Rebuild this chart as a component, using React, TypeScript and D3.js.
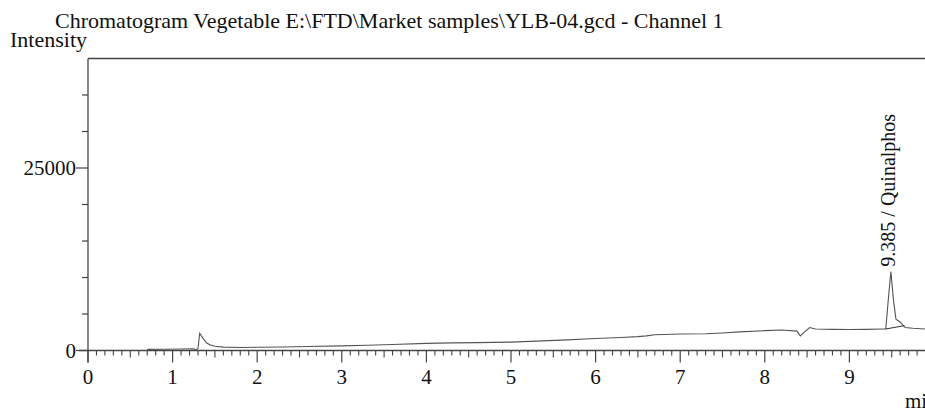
import React from 'react';
import * as d3 from 'd3';

// chromatogram trace: [minutes, intensity]
const traceTimes = [
  0.7, 0.9, 1.1, 1.25, 1.27, 1.3, 1.32, 1.34, 1.37, 1.4, 1.44, 1.5, 1.6, 1.8,
  2.0, 2.3, 2.6, 3.0, 3.3, 3.6, 4.0, 4.3, 4.6, 5.0, 5.3, 5.6, 6.0, 6.3, 6.5,
  6.6, 6.7, 7.0, 7.3, 7.5, 7.7, 8.0, 8.2, 8.38, 8.42, 8.46, 8.53, 8.6, 8.8,
  9.0, 9.2, 9.4, 9.43, 9.46, 9.49, 9.52, 9.55, 9.6, 9.63, 9.66, 9.75, 9.9,
];
const traceValues = [
  150, 180, 200, 220, 100, 250, 2350, 2000, 1500, 1050, 780, 580, 460, 420,
  440, 480, 540, 640, 720, 820, 980, 1040, 1080, 1150, 1280, 1420, 1640, 1780,
  1900, 2000, 2150, 2250, 2300, 2400, 2550, 2720, 2800, 2650, 2000, 2450,
  3150, 2950, 2900, 2880, 2900, 2950, 2950, 7000, 10800, 7000, 4300, 3900,
  3500, 3150, 3050, 2950,
];

// integration baseline under the peak
const peakBaseTimes = [9.43, 9.65];
const peakBaseValues = [2950, 3400];

const peakLabel = '9.385 / Quinalphos';
const peakTime = 9.49;
const peakValue = 10800;

const yMajorTicks = [0, 25000];
const yMinorTicks = [5000, 10000, 15000, 20000, 30000, 35000];
const xMajorTicks = [0, 1, 2, 3, 4, 5, 6, 7, 8, 9];

const title = 'Chromatogram Vegetable E:\\FTD\\Market samples\\YLB-04.gcd - Channel 1';

const W = 925;
const H = 409;
const font = '"Liberation Serif", "Times New Roman", serif';

export default function App() {
  const x = d3.scaleLinear().domain([0, 10]).range([88, 934]);
  const y = d3.scaleLinear().domain([0, 40000]).range([350.5, 58.5]);

  const pts: [number, number][] = traceTimes.map((t, i) => [t, traceValues[i]]);
  const line = d3
    .line<[number, number]>()
    .x((d) => x(d[0]))
    .y((d) => y(d[1]));

  const basePts: [number, number][] = peakBaseTimes.map((t, i) => [t, peakBaseValues[i]]);

  // minor ticks every 0.1 min, a bit longer at the half minute
  const xMinor = d3.range(0, 100).map((i) => i / 10).filter((v) => Math.round(v * 10) % 10 !== 0);

  const axisColor = '#444';

  return (
    <svg
      width={W}
      height={H}
      style={{ position: 'absolute', left: 0, top: 0, background: '#fff' }}
      fontFamily={font}
    >
      <text x={55} y={28} fontSize={22} fill="#111">
        {title}
      </text>
      <text x={10} y={47} fontSize={22} fill="#111">
        Intensity
      </text>

      {/* frame: top edge and y axis */}
      <line x1={x(0)} x2={W} y1={y(40000)} y2={y(40000)} stroke={axisColor} strokeWidth={1.3} />
      <line x1={x(0)} x2={x(0)} y1={y(40000)} y2={y(0) + 12} stroke={axisColor} strokeWidth={1.3} />
      <line x1={x(0) - 9} x2={W} y1={y(0)} y2={y(0)} stroke={axisColor} strokeWidth={1.3} />

      {/* y ticks */}
      {yMinorTicks.map((v) => (
        <line key={v} x1={x(0) - 6} x2={x(0)} y1={y(v)} y2={y(v)} stroke={axisColor} strokeWidth={1.2} />
      ))}
      {yMajorTicks.map((v) => (
        <g key={v}>
          <line x1={x(0) - 12} x2={x(0)} y1={y(v)} y2={y(v)} stroke={axisColor} strokeWidth={1.2} />
          <text x={x(0) - 12} y={y(v) + 7} textAnchor="end" fontSize={21} fill="#111">
            {v}
          </text>
        </g>
      ))}

      {/* x ticks */}
      {xMinor.map((v) => (
        <line
          key={v}
          x1={x(v)}
          x2={x(v)}
          y1={y(0)}
          y2={y(0) + (Math.round(v * 10) % 5 === 0 ? 7 : 5)}
          stroke={axisColor}
          strokeWidth={1.1}
        />
      ))}
      {xMajorTicks.map((v) => (
        <g key={v}>
          <line x1={x(v)} x2={x(v)} y1={y(0)} y2={y(0) + 12} stroke={axisColor} strokeWidth={1.2} />
          <text x={x(v)} y={384} textAnchor="middle" fontSize={21} fill="#111">
            {v}
          </text>
        </g>
      ))}
      <text x={905} y={408} fontSize={21} fill="#111">
        min
      </text>

      {/* trace */}
      <path d={line(pts) ?? ''} fill="none" stroke="#555" strokeWidth={1.1} />
      <path d={line(basePts) ?? ''} fill="none" stroke="#333" strokeWidth={1} />

      <text
        transform={`translate(${x(peakTime) + 4},${y(peakValue) - 5}) rotate(-90)`}
        fontSize={20}
        fill="#111"
      >
        {peakLabel}
      </text>
    </svg>
  );
}
